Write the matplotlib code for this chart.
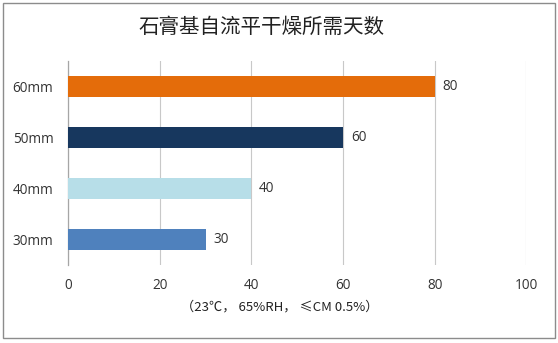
import matplotlib
matplotlib.use("Agg")
from matplotlib import pyplot as plt
from matplotlib.patches import Rectangle

categories = ["30mm", "40mm", "50mm", "60mm"]
days = [30, 40, 60, 80]
colors = ["#4F81BD", "#B7DEE8", "#17375E", "#E46C0A"]
xticks = [0, 20, 40, 60, 80, 100]

title = "石膏基自流平干燥所需天数"
xlabel = "（23℃， 65%RH， ≤CM 0.5%）"

plt.rcParams['font.family'] = ['Open Sans', 'Noto Sans CJK SC', 'DejaVu Sans']

fig = plt.figure(figsize=(5.58, 3.43), dpi=100)
ax = fig.add_axes([0.1219, 0.2274, 0.8216, 0.5948])

# horizontal bars, one per thickness
ypos = list(range(len(categories)))
ax.barh(ypos, days, height=0.4, color=colors, zorder=3)
for y, v in zip(ypos, days):
    ax.text(v + 1.7, y, str(v), va="center", ha="left", fontsize=9.8, color="#333333")

ax.set_xlim(0, 100)
ax.set_ylim(-0.5, len(categories) - 0.5)
ax.set_xticks(xticks)
ax.set_xticklabels([str(t) for t in xticks], fontsize=9.8, color="#333333")
ax.set_yticks(ypos)
ax.set_yticklabels(categories, fontsize=9.8, color="#333333")
ax.tick_params(axis="both", length=0)
ax.tick_params(axis="x", pad=9)
ax.tick_params(axis="y", pad=10.5)

ax.grid(axis="x", color="#C8C8C8", linewidth=0.8, zorder=0)
for s in ["top", "right", "bottom"]:
    ax.spines[s].set_visible(False)
ax.spines["left"].set_color("#A6A6A6")
ax.spines["left"].set_linewidth(0.9)

fig.text(280 / 558, 1 - 307 / 343, xlabel, ha="center", va="center", fontsize=9.5,
         color="#222222", family=['Noto Sans CJK SC', 'DejaVu Sans'])
fig.text(261 / 558, 1 - 27 / 343, title, ha="center", va="center", fontsize=14.8,
         color="#222222", family=['Noto Sans CJK SC', 'DejaVu Sans'])

# chart frame
fig.patches.append(Rectangle((3 / 558, 5 / 343), 552 / 558, 335 / 343,
                             transform=fig.transFigure, fill=False,
                             edgecolor="#8C8C8C", linewidth=1.0))

fig.savefig("out.png", dpi=100)
